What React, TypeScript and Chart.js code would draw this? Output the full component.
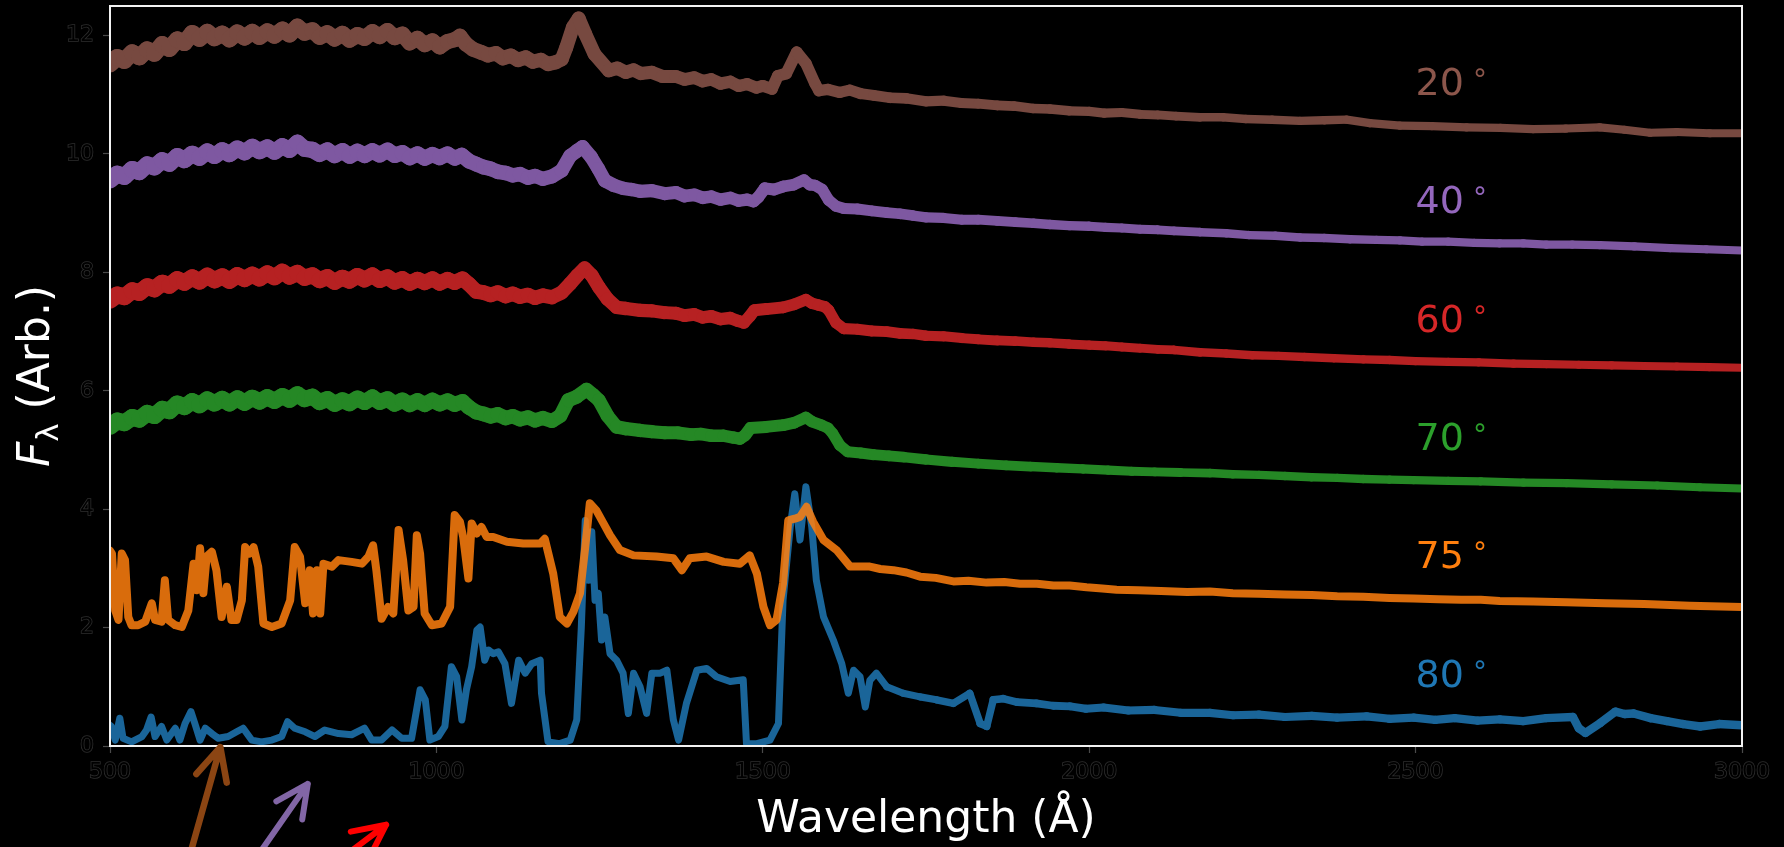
import { useEffect, useRef } from "react";
import { Chart, registerables } from "chart.js";

Chart.register(...registerables);

// Spectra: [wavelength (Å), flux (arbitrary, offset per inclination)]
const SPEC_20 = [
  [500, 11.52], [511, 11.63], [522, 11.58], [534, 11.71], [545, 11.64], [557, 11.76], [568, 11.7], [580, 11.85], [591, 11.78], [603, 11.93],
  [614, 11.88], [626, 12.04], [637, 11.95], [649, 12.06], [660, 11.96], [672, 12.03], [683, 11.94], [695, 12.05], [706, 11.97], [718, 12.06],
  [729, 11.98], [741, 12.07], [752, 12.0], [764, 12.1], [775, 12.02], [787, 12.15], [798, 12.05], [810, 12.09], [821, 11.98], [833, 12.04],
  [844, 11.95], [856, 12.03], [867, 11.93], [879, 12.01], [890, 11.96], [902, 12.06], [913, 11.99], [925, 12.08], [936, 11.97], [948, 12.02],
  [959, 11.88], [971, 11.95], [982, 11.85], [994, 11.91], [1005, 11.81], [1017, 11.9], [1028, 11.93], [1036, 11.99], [1045, 11.86], [1056, 11.77],
  [1068, 11.72], [1079, 11.67], [1091, 11.7], [1102, 11.62], [1114, 11.66], [1125, 11.59], [1137, 11.63], [1148, 11.56], [1160, 11.59], [1171, 11.52],
  [1183, 11.55], [1192, 11.6], [1199, 11.8], [1209, 12.14], [1218, 12.29], [1228, 12.03], [1242, 11.69], [1264, 11.41], [1277, 11.45], [1290, 11.38],
  [1302, 11.42], [1313, 11.36], [1330, 11.38], [1346, 11.31], [1367, 11.31], [1380, 11.26], [1395, 11.29], [1408, 11.23], [1421, 11.26], [1435, 11.19],
  [1450, 11.22], [1463, 11.15], [1476, 11.18], [1490, 11.12], [1500, 11.15], [1514, 11.1], [1523, 11.32], [1536, 11.36], [1552, 11.72], [1566, 11.53],
  [1580, 11.19], [1586, 11.07], [1600, 11.09], [1618, 11.04], [1633, 11.08], [1650, 11.02], [1670, 10.99], [1695, 10.95], [1720, 10.94], [1750, 10.89],
  [1777, 10.9], [1804, 10.86], [1830, 10.85], [1859, 10.82], [1885, 10.81], [1914, 10.77], [1940, 10.76], [1969, 10.73], [2000, 10.72], [2023, 10.69],
  [2050, 10.7], [2078, 10.67], [2105, 10.66], [2133, 10.64], [2170, 10.62], [2205, 10.62], [2240, 10.59], [2280, 10.58], [2323, 10.56], [2360, 10.57],
  [2394, 10.58], [2430, 10.52], [2476, 10.48], [2525, 10.47], [2578, 10.45], [2630, 10.44], [2680, 10.42], [2730, 10.43], [2782, 10.45], [2820, 10.41],
  [2859, 10.36], [2900, 10.37], [2950, 10.35], [3000, 10.35],
];

const SPEC_40 = [
  [500, 9.56], [511, 9.66], [522, 9.62], [534, 9.74], [545, 9.7], [557, 9.82], [568, 9.78], [580, 9.89], [591, 9.84], [603, 9.96],
  [614, 9.9], [626, 10.0], [637, 9.94], [649, 10.04], [660, 9.97], [672, 10.06], [683, 10.0], [695, 10.09], [706, 10.03], [718, 10.12],
  [729, 10.05], [741, 10.11], [752, 10.04], [764, 10.13], [775, 10.07], [787, 10.19], [798, 10.09], [810, 10.07], [821, 10.0], [833, 10.06],
  [844, 9.98], [856, 10.05], [867, 9.97], [879, 10.04], [890, 9.98], [902, 10.05], [913, 9.99], [925, 10.06], [936, 9.98], [948, 10.02],
  [959, 9.94], [971, 10.0], [982, 9.93], [994, 9.99], [1005, 9.94], [1017, 10.0], [1028, 9.93], [1039, 9.98], [1050, 9.88], [1061, 9.83],
  [1072, 9.78], [1083, 9.75], [1094, 9.7], [1106, 9.68], [1117, 9.64], [1128, 9.66], [1140, 9.6], [1151, 9.63], [1163, 9.58], [1177, 9.62],
  [1192, 9.72], [1205, 9.97], [1215, 10.05], [1224, 10.12], [1237, 9.95], [1248, 9.75], [1258, 9.55], [1272, 9.47], [1286, 9.42], [1299, 9.4],
  [1312, 9.37], [1330, 9.38], [1350, 9.33], [1367, 9.35], [1380, 9.29], [1395, 9.31], [1408, 9.26], [1421, 9.28], [1435, 9.23], [1450, 9.26],
  [1463, 9.21], [1476, 9.23], [1486, 9.2], [1493, 9.27], [1503, 9.42], [1517, 9.4], [1531, 9.45], [1547, 9.48], [1563, 9.56], [1572, 9.48],
  [1580, 9.47], [1591, 9.4], [1601, 9.22], [1612, 9.12], [1624, 9.08], [1645, 9.07], [1667, 9.04], [1690, 9.01], [1710, 8.99], [1730, 8.96],
  [1750, 8.93], [1777, 8.92], [1805, 8.89], [1830, 8.89], [1859, 8.87], [1887, 8.85], [1915, 8.83], [1940, 8.81], [1969, 8.79], [2000, 8.78],
  [2025, 8.76], [2050, 8.75], [2078, 8.73], [2105, 8.72], [2130, 8.7], [2170, 8.68], [2210, 8.66], [2245, 8.63], [2285, 8.62], [2323, 8.59],
  [2360, 8.58], [2400, 8.56], [2440, 8.55], [2476, 8.54], [2510, 8.52], [2550, 8.52], [2590, 8.5], [2629, 8.49], [2665, 8.49], [2700, 8.47],
  [2740, 8.47], [2782, 8.46], [2835, 8.44], [2890, 8.41], [2945, 8.39], [3000, 8.37],
];

const SPEC_60 = [
  [500, 7.53], [511, 7.62], [522, 7.59], [534, 7.69], [545, 7.66], [557, 7.76], [568, 7.72], [580, 7.82], [591, 7.78], [603, 7.88],
  [614, 7.83], [626, 7.91], [637, 7.85], [649, 7.94], [660, 7.87], [672, 7.93], [683, 7.86], [695, 7.95], [706, 7.89], [718, 7.96],
  [729, 7.9], [741, 7.98], [752, 7.92], [764, 8.01], [775, 7.93], [787, 7.99], [798, 7.91], [810, 7.95], [821, 7.87], [833, 7.92],
  [844, 7.84], [856, 7.91], [867, 7.86], [879, 7.94], [890, 7.88], [902, 7.95], [913, 7.87], [925, 7.92], [936, 7.84], [948, 7.89],
  [959, 7.82], [971, 7.88], [982, 7.83], [994, 7.89], [1005, 7.82], [1017, 7.88], [1028, 7.83], [1040, 7.89], [1050, 7.8], [1061, 7.68],
  [1072, 7.66], [1083, 7.62], [1094, 7.66], [1106, 7.6], [1117, 7.64], [1128, 7.59], [1140, 7.62], [1151, 7.57], [1163, 7.61], [1177, 7.58],
  [1192, 7.66], [1205, 7.81], [1216, 7.95], [1227, 8.07], [1238, 7.95], [1249, 7.75], [1262, 7.55], [1276, 7.41], [1290, 7.39], [1312, 7.36],
  [1330, 7.35], [1350, 7.32], [1367, 7.31], [1380, 7.27], [1395, 7.29], [1408, 7.24], [1421, 7.26], [1435, 7.21], [1450, 7.23], [1462, 7.18],
  [1471, 7.15], [1480, 7.26], [1487, 7.36], [1505, 7.38], [1531, 7.41], [1548, 7.46], [1566, 7.54], [1575, 7.48], [1585, 7.45], [1595, 7.42],
  [1601, 7.36], [1612, 7.15], [1624, 7.05], [1645, 7.04], [1667, 7.01], [1690, 7.0], [1710, 6.97], [1730, 6.96], [1750, 6.93], [1777, 6.92],
  [1805, 6.89], [1830, 6.87], [1859, 6.85], [1887, 6.84], [1915, 6.82], [1940, 6.81], [1969, 6.79], [2000, 6.77], [2025, 6.76], [2050, 6.74],
  [2078, 6.72], [2105, 6.7], [2130, 6.69], [2170, 6.65], [2210, 6.63], [2250, 6.6], [2290, 6.59], [2330, 6.57], [2375, 6.55], [2420, 6.53],
  [2460, 6.52], [2500, 6.5], [2550, 6.49], [2597, 6.48], [2650, 6.46], [2700, 6.45], [2750, 6.44], [2800, 6.43], [2850, 6.42], [2900, 6.41],
  [2950, 6.4], [3000, 6.39],
];

const SPEC_70 = [
  [500, 5.4], [511, 5.49], [522, 5.46], [534, 5.55], [545, 5.52], [557, 5.62], [568, 5.58], [580, 5.69], [591, 5.66], [603, 5.78],
  [614, 5.73], [626, 5.82], [637, 5.76], [649, 5.85], [660, 5.79], [672, 5.86], [683, 5.79], [695, 5.87], [706, 5.8], [718, 5.88],
  [729, 5.82], [741, 5.89], [752, 5.83], [764, 5.91], [775, 5.85], [787, 5.94], [798, 5.86], [810, 5.9], [821, 5.81], [833, 5.86],
  [844, 5.78], [856, 5.84], [867, 5.79], [879, 5.87], [890, 5.81], [902, 5.89], [913, 5.81], [925, 5.86], [936, 5.78], [948, 5.84],
  [959, 5.77], [971, 5.83], [982, 5.77], [994, 5.84], [1005, 5.78], [1017, 5.83], [1028, 5.77], [1040, 5.82], [1050, 5.72], [1061, 5.64],
  [1072, 5.61], [1083, 5.57], [1094, 5.6], [1106, 5.54], [1117, 5.57], [1128, 5.52], [1140, 5.55], [1151, 5.5], [1163, 5.54], [1177, 5.49],
  [1190, 5.58], [1202, 5.84], [1215, 5.9], [1230, 6.02], [1240, 5.93], [1249, 5.84], [1262, 5.58], [1276, 5.39], [1290, 5.36], [1312, 5.33],
  [1330, 5.31], [1350, 5.29], [1370, 5.29], [1390, 5.26], [1405, 5.27], [1421, 5.24], [1440, 5.24], [1455, 5.21], [1465, 5.19], [1473, 5.25],
  [1481, 5.37], [1505, 5.39], [1531, 5.42], [1548, 5.46], [1566, 5.55], [1575, 5.48], [1590, 5.42], [1600, 5.37], [1607, 5.28], [1618, 5.08],
  [1630, 4.97], [1650, 4.95], [1670, 4.92], [1693, 4.9], [1716, 4.88], [1750, 4.84], [1790, 4.8], [1830, 4.77], [1873, 4.74], [1910, 4.72],
  [1950, 4.7], [1990, 4.68], [2029, 4.66], [2065, 4.64], [2100, 4.63], [2140, 4.62], [2185, 4.61], [2220, 4.59], [2260, 4.58], [2300, 4.56],
  [2341, 4.54], [2380, 4.53], [2420, 4.51], [2460, 4.5], [2497, 4.49], [2550, 4.48], [2600, 4.47], [2665, 4.45], [2731, 4.44], [2800, 4.42],
  [2870, 4.4], [2935, 4.37], [3000, 4.35],
];

const WL_75 = [500, 503, 508, 513, 518, 523, 528, 533, 543, 554, 564, 569, 579, 584, 589, 600, 610, 620, 628, 633, 638, 643, 648, 656, 663, 671, 679, 686, 694, 702, 707, 714, 720, 727, 735, 748, 763, 776, 783, 791, 799, 806, 811, 817, 822, 827, 840, 850, 870, 886, 896, 903, 908, 916, 926, 934, 942, 949, 957, 965, 970, 975, 982, 993, 1008, 1021, 1028, 1036, 1041, 1049, 1054, 1062, 1069, 1077, 1087, 1108, 1133, 1159, 1166, 1179, 1189, 1200, 1210, 1220, 1228, 1235, 1245, 1256, 1266, 1281, 1302, 1337, 1363, 1376, 1388, 1414, 1440, 1465, 1480, 1491, 1501, 1511, 1521, 1531, 1539, 1549, 1557, 1567, 1577, 1593, 1613, 1634,
  1664, 1680, 1700, 1720, 1741, 1765, 1792, 1815, 1843, 1870, 1894, 1920, 1945, 1970, 1996, 2020, 2042, 2075, 2110, 2150, 2185, 2220, 2260, 2300, 2341, 2380, 2420, 2460, 2497, 2535, 2570, 2600, 2629, 2680, 2731, 2790, 2850, 2920, 3000];
const FLUX_75 = [3.3, 3.25, 2.29, 2.13, 3.25, 3.14, 2.18, 2.04, 2.04, 2.1, 2.41, 2.13, 2.1, 2.8, 2.13, 2.04, 2.01, 2.29, 3.08, 2.63, 3.34, 2.58, 3.2, 3.28, 2.97, 2.18, 2.69, 2.13, 2.13, 2.46, 3.36, 3.25, 3.36, 3.03, 2.07, 2.01, 2.07, 2.46, 3.36, 3.2, 2.41, 2.97, 2.24, 2.97, 2.24, 3.08, 3.03, 3.14, 3.11, 3.08, 3.2, 3.39, 2.97, 2.15, 2.35, 2.24, 3.65, 3.14, 2.29, 2.35, 3.56, 3.25, 2.24, 2.04, 2.07, 2.35, 3.9, 3.79, 3.53, 2.83, 3.76, 3.59, 3.7, 3.53, 3.53, 3.45, 3.42, 3.42, 3.5, 2.91, 2.18, 2.07, 2.27, 2.58, 3.36, 4.1, 3.98, 3.76, 3.56, 3.31, 3.22, 3.2, 3.17, 2.97, 3.17, 3.2, 3.11, 3.08, 3.22, 2.91, 2.35, 2.04, 2.13, 2.75, 3.81, 3.84, 3.87, 4.04, 3.79, 3.48, 3.31, 3.03,
  3.03, 2.99, 2.97, 2.93, 2.86, 2.84, 2.78, 2.79, 2.76, 2.77, 2.74, 2.74, 2.71, 2.71, 2.68, 2.66, 2.64, 2.63, 2.62, 2.6, 2.61, 2.58, 2.57, 2.56, 2.55, 2.53, 2.52, 2.5, 2.49, 2.48, 2.47, 2.47, 2.45, 2.44, 2.43, 2.41, 2.4, 2.37, 2.35];

const WL_80 = [500, 502, 508, 515, 520, 533, 549, 556, 563, 569, 579, 587, 600, 607, 615, 624, 630, 638, 646, 656, 666, 681, 694, 704, 717, 732, 748, 763, 772, 783, 799, 814, 829, 850, 870, 890, 901, 916, 932, 947, 962, 975, 983, 990, 1003, 1013, 1023, 1031, 1039, 1046, 1054, 1062, 1067, 1074, 1080, 1087, 1095, 1105, 1115, 1126, 1136, 1146, 1159, 1161, 1171, 1189, 1205, 1215, 1222, 1228, 1233, 1238, 1243, 1248, 1253, 1258, 1266, 1276, 1286, 1294, 1302, 1312, 1322, 1330, 1343, 1353, 1363, 1371, 1383, 1399, 1414, 1429, 1450, 1470, 1475, 1491, 1511, 1524, 1531, 1542, 1549, 1557, 1566, 1575, 1582, 1593, 1608, 1621, 1631, 1639, 1649, 1657, 1664, 1674, 1690, 1715, 1741, 1766, 1792, 1817, 1833, 1843, 1853,
  1868, 1890, 1919, 1945, 1971, 1995, 2022, 2060, 2100, 2140, 2185, 2220, 2260, 2300, 2341, 2380, 2425, 2460, 2497, 2530, 2560, 2595, 2629, 2665, 2700, 2741, 2750, 2760, 2783, 2806, 2820, 2834, 2860, 2885, 2910, 2936, 2965, 3000];
const FLUX_80 = [0.35, 0.33, 0.1, 0.47, 0.13, 0.07, 0.16, 0.27, 0.49, 0.16, 0.33, 0.1, 0.3, 0.1, 0.38, 0.58, 0.38, 0.1, 0.3, 0.21, 0.13, 0.16, 0.24, 0.3, 0.1, 0.07, 0.1, 0.16, 0.41, 0.3, 0.24, 0.16, 0.27, 0.21, 0.19, 0.3, 0.1, 0.1, 0.27, 0.13, 0.13, 0.95, 0.78, 0.1, 0.16, 0.33, 1.34, 1.17, 0.44, 0.95, 1.34, 1.96, 2.01, 1.45, 1.62, 1.56, 1.59, 1.39, 0.72, 1.45, 1.23, 1.39, 1.45, 0.89, 0.07, 0.04, 0.1, 0.44, 2.01, 3.81, 2.8, 3.62, 2.46, 2.58, 1.79, 2.18, 1.56, 1.45, 1.23, 0.55, 1.23, 1.0, 0.55, 1.23, 1.23, 1.28, 0.44, 0.1, 0.72, 1.28, 1.31, 1.17, 1.09, 1.12, 0.04, 0.04, 0.1, 0.38, 2.46, 3.7, 4.26, 3.48, 4.38, 3.7, 2.8, 2.18, 1.79, 1.39, 0.89, 1.28, 1.17, 0.66, 1.11, 1.23, 1.0, 0.89, 0.83, 0.78, 0.72, 0.89, 0.38, 0.33, 0.78,
  0.8, 0.74, 0.72, 0.68, 0.67, 0.63, 0.65, 0.6, 0.61, 0.56, 0.56, 0.52, 0.53, 0.49, 0.51, 0.48, 0.5, 0.46, 0.48, 0.44, 0.47, 0.43, 0.45, 0.42, 0.47, 0.49, 0.3, 0.22, 0.39, 0.58, 0.54, 0.55, 0.47, 0.42, 0.37, 0.33, 0.37, 0.35];

// Inclination labels, and where they sit (data units)
const ANGLES = ["20", "40", "60", "70", "75", "80"];
const ANGLE_LABEL_Y = [11, 9, 7, 5, 3, 1];
const ANGLE_LABEL_X = 2500;

const X_TICKS = [500, 1000, 1500, 2000, 2500, 3000];
const Y_TICKS = [0, 2, 4, 6, 8, 10, 12];

// Stroke width (px) against wavelength, standing in for the noise band
const BAND_BRIGHT = [[500, 17], [900, 16], [1200, 14], [1500, 12], [1800, 10], [2200, 8.5], [3000, 8]];
const BAND_FAINT = [[500, 7], [1700, 7], [2000, 8], [3000, 8.5]];

const zip = (wl: number[], flux: number[]) => wl.map((x, i) => [x, flux[i]]);

const SERIES = [
  { spec: SPEC_20, line: "#774940", text: "#8c564b", band: BAND_BRIGHT, width: 0 },
  { spec: SPEC_40, line: "#7e58a1", text: "#9467bd", band: BAND_BRIGHT, width: 0 },
  { spec: SPEC_60, line: "#b62122", text: "#d62728", band: BAND_BRIGHT, width: 0 },
  { spec: SPEC_70, line: "#258825", text: "#2ca02c", band: BAND_BRIGHT, width: 0 },
  { spec: zip(WL_75, FLUX_75), line: "rgba(255,127,14,0.85)", text: "#ff7f0e", band: null, width: 8 },
  { spec: zip(WL_80, FLUX_80), line: "#1a6599", text: "#1f77b4", band: BAND_FAINT, width: 0 },
];

// Arrows below the axis: tip and tail in data units
const ARROWS = [
  { tip: [669, -0.02], tail: [616, -2.09], color: "#8b4513", width: 6.5 },
  { tip: [803, -0.64], tail: [722, -1.92], color: "#8266a6", width: 6 },
  { tip: [923, -1.33], tail: [852, -1.92], color: "#ff0000", width: 6 },
];

const FONT = "'DejaVu Sans', 'Liberation Sans', sans-serif";

function widthAt(x: number, table: number[][]) {
  if (x <= table[0][0]) return table[0][1];
  for (let i = 1; i < table.length; i++) {
    if (x <= table[i][0]) {
      const [x0, w0] = table[i - 1];
      const [x1, w1] = table[i];
      return w0 + ((w1 - w0) * (x - x0)) / (x1 - x0);
    }
  }
  return table[table.length - 1][1];
}

const decorations = {
  id: "decorations",
  afterDatasetsDraw(chart: any) {
    const { ctx, chartArea: a, scales } = chart;
    const xs = scales.x;
    const ys = scales.y;
    ctx.save();

    // frame
    ctx.strokeStyle = "#f2f2f2";
    ctx.lineWidth = 2;
    ctx.strokeRect(a.left, a.top, a.right - a.left, a.bottom - a.top);

    // inclination labels
    ctx.textBaseline = "alphabetic";
    ctx.textAlign = "left";
    ANGLES.forEach((ang, i) => {
      const x = xs.getPixelForValue(ANGLE_LABEL_X);
      const y = ys.getPixelForValue(ANGLE_LABEL_Y[i]);
      ctx.fillStyle = SERIES[i].text;
      ctx.font = `38px ${FONT}`;
      ctx.fillText(ang, x, y);
      const w = ctx.measureText(ang).width;
      ctx.font = `28px ${FONT}`;
      ctx.fillText("°", x + w + 9, y - 6);
    });

    // x-axis title
    ctx.fillStyle = "#ffffff";
    ctx.textAlign = "center";
    ctx.font = `44px ${FONT}`;
    ctx.fillText("Wavelength (Å)", (a.left + a.right) / 2, a.bottom + 86);

    // y-axis title: F_λ (Arb.)
    ctx.save();
    ctx.translate(a.left - 61, (a.top + a.bottom) / 2);
    ctx.rotate(-Math.PI / 2);
    ctx.textAlign = "left";
    const fFont = `italic 44px ${FONT}`;
    const subFont = `31px ${FONT}`;
    const restFont = `44px ${FONT}`;
    ctx.font = fFont;
    const wF = ctx.measureText("F").width;
    ctx.font = subFont;
    const wL = ctx.measureText("λ").width;
    ctx.font = restFont;
    const rest = " (Arb.)";
    const wR = ctx.measureText(rest).width;
    let cx = -(wF + wL + wR) / 2;
    ctx.font = fFont;
    ctx.fillText("F", cx, 0);
    cx += wF;
    ctx.font = subFont;
    ctx.fillText("λ", cx, 9);
    cx += wL;
    ctx.font = restFont;
    ctx.fillText(rest, cx, 0);
    ctx.restore();

    // arrows
    ctx.lineCap = "round";
    ctx.lineJoin = "round";
    ARROWS.forEach((ar) => {
      const tx = xs.getPixelForValue(ar.tip[0]);
      const ty = ys.getPixelForValue(ar.tip[1]);
      const bx = xs.getPixelForValue(ar.tail[0]);
      const by = ys.getPixelForValue(ar.tail[1]);
      const ang = Math.atan2(by - ty, bx - tx);
      const len = 36;
      const spread = (26 * Math.PI) / 180;
      ctx.strokeStyle = ar.color;
      ctx.lineWidth = ar.width;
      ctx.beginPath();
      ctx.moveTo(bx, by);
      ctx.lineTo(tx, ty);
      ctx.moveTo(tx + len * Math.cos(ang - spread), ty + len * Math.sin(ang - spread));
      ctx.lineTo(tx, ty);
      ctx.lineTo(tx + len * Math.cos(ang + spread), ty + len * Math.sin(ang + spread));
      ctx.stroke();
    });

    ctx.restore();
  },
};

const tickStyle = {
  color: "#000000",
  textStrokeColor: "#2e2e2e",
  textStrokeWidth: 1.5,
  font: { family: FONT, size: 22 },
  autoSkip: false,
  maxRotation: 0,
  includeBounds: false,
  callback: (v: any) => String(v),
};

export default function App() {
  const ref = useRef<HTMLCanvasElement>(null);

  useEffect(() => {
    document.body.style.margin = "0";
    document.body.style.background = "#000";
    const datasets = SERIES.map((s, i) => ({
      label: ANGLES[i] + "°",
      data: s.spec.map(([x, y]) => ({ x, y })),
      borderColor: s.line,
      borderWidth: s.band ? s.band[0][1] : s.width,
      segment: s.band
        ? { borderWidth: (c: any) => widthAt((c.p0.parsed.x + c.p1.parsed.x) / 2, s.band as number[][]) }
        : undefined,
      pointRadius: 0,
      pointHoverRadius: 0,
      tension: 0,
      fill: false,
      clip: 0,
      borderJoinStyle: "round",
      borderCapStyle: "round",
    }));

    const chart = new Chart(ref.current as HTMLCanvasElement, {
      type: "line",
      data: { datasets } as any,
      options: {
        responsive: false,
        animation: false,
        devicePixelRatio: 1,
        events: [],
        layout: { padding: { top: 6, right: 42, bottom: 0, left: 0 } },
        plugins: { legend: { display: false }, tooltip: { enabled: false } },
        scales: {
          x: {
            type: "linear",
            min: 500,
            max: 3000,
            afterBuildTicks: (s: any) => {
              s.ticks = X_TICKS.map((v) => ({ value: v }));
            },
            afterFit: (s: any) => {
              s.height = 101;
              s.paddingLeft = 0;
              s.paddingRight = 0;
            },
            grid: { display: true, drawOnChartArea: false, drawTicks: true, tickLength: 7, tickColor: "#4a4a4a", tickWidth: 1.2 },
            border: { display: false },
            ticks: { ...tickStyle, padding: 6 },
          },
          y: {
            type: "linear",
            min: 0,
            max: 12.5,
            afterBuildTicks: (s: any) => {
              s.ticks = Y_TICKS.map((v) => ({ value: v }));
            },
            afterFit: (s: any) => {
              s.width = 110;
              s.paddingTop = 0;
              s.paddingBottom = 0;
            },
            grid: { display: true, drawOnChartArea: false, drawTicks: true, tickLength: 7, tickColor: "#4a4a4a", tickWidth: 1.2 },
            border: { display: false },
            ticks: { ...tickStyle, padding: 9 },
          },
        },
      } as any,
      plugins: [decorations],
    });
    return () => chart.destroy();
  }, []);

  return (
    <div style={{ position: "fixed", left: 0, top: 0, width: 1784, height: 847, background: "#000" }}>
      <canvas ref={ref} width={1784} height={847} style={{ display: "block", width: 1784, height: 847 }} />
    </div>
  );
}
